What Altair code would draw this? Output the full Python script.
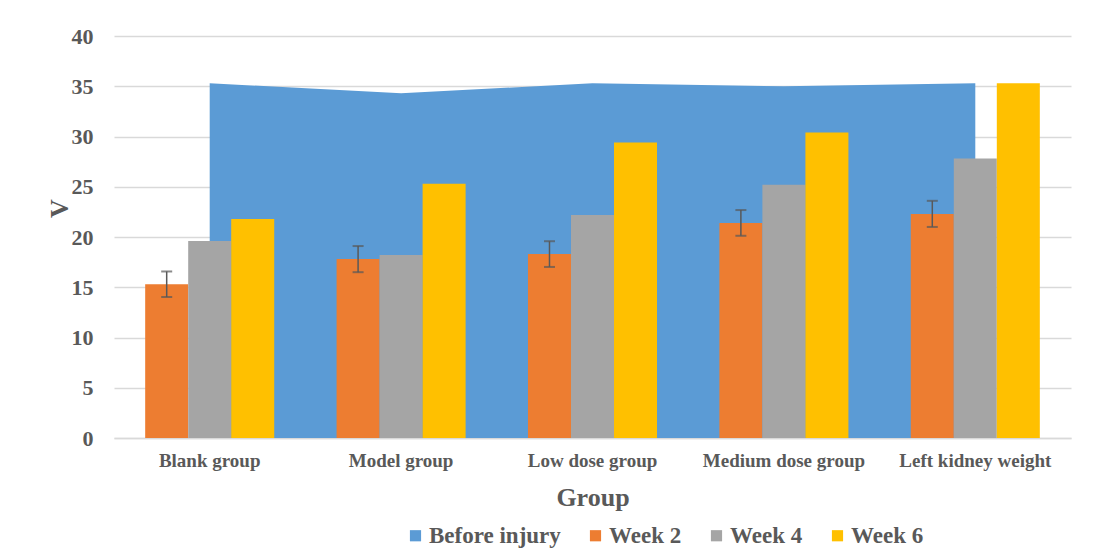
import altair as alt
import pandas as pd

groups = ["Blank group", "Model group", "Low dose group", "Medium dose group", "Left kidney weight"]
series_names = ["Before injury", "Week 2", "Week 4", "Week 6"]
weeks = ["Week 2", "Week 4", "Week 6"]
colors = ["#5B9BD5", "#ED7D31", "#A5A5A5", "#FFC000"]

before_injury = [35.3, 34.3, 35.3, 35.0, 35.3]
week2 = [15.3, 17.8, 18.3, 21.4, 22.3]
week4 = [19.6, 18.2, 22.2, 25.2, 27.8]
week6 = [21.8, 25.3, 29.4, 30.4, 35.3]
week2_err = [1.27, 1.3, 1.28, 1.28, 1.3]
y_ticks = [0, 5, 10, 15, 20, 25, 30, 35, 40]

FONT = "Liberation Serif"
TXT = "#595959"
GRID = "#D9D9D9"

df_area = pd.DataFrame({"group": groups, "value": before_injury, "series": "Before injury"})
bars = []
for name, vals in zip(weeks, [week2, week4, week6]):
    for g, v in zip(groups, vals):
        bars.append({"group": g, "series": name, "value": v})
df_bars = pd.DataFrame(bars)
df_err = pd.DataFrame({
    "group": groups,
    "series": "Week 2",
    "lo": [v - e for v, e in zip(week2, week2_err)],
    "hi": [v + e for v, e in zip(week2, week2_err)],
})

color_scale = alt.Scale(domain=series_names, range=colors)
legend = alt.Legend(
    orient="none", legendX=290, legendY=488, direction="horizontal", title=None,
    symbolType="square", symbolSize=125, symbolStrokeWidth=0,
    labelFontSize=23, labelFont=FONT, labelFontWeight="bold", labelColor=TXT,
    columnPadding=23, labelOffset=2, padding=0,
)

x_enc = alt.X(
    "group:N", sort=groups,
    scale=alt.Scale(domain=groups, paddingInner=0, paddingOuter=0),
    axis=alt.Axis(
        title="Group", labelAngle=0, labelFontSize=19, labelFont=FONT, labelFontWeight="bold",
        labelColor=TXT, labelPadding=13, ticks=False, tickSize=0,
        domainColor=GRID, domainWidth=1.5, grid=False,
        titleFontSize=26, titleFont=FONT, titleFontWeight="bold", titleColor=TXT,
        titleBaseline="alphabetic", titleY=67,
    ),
)
y_enc = alt.Y(
    "value:Q",
    scale=alt.Scale(domain=[0, 40], nice=False),
    axis=alt.Axis(
        title="V", values=y_ticks, labelFontSize=22, labelFont=FONT, labelFontWeight="bold",
        labelColor=TXT, labelPadding=21, ticks=False, tickSize=0, domain=False,
        gridColor=GRID, gridWidth=1.5,
        titleFontSize=26, titleFont=FONT, titleFontWeight="bold", titleColor=TXT,
        titleBaseline="alphabetic", titleX=-47, titleY=172, titleAngle=-90,
    ),
)
xoff = alt.XOffset("series:N", sort=weeks,
                   scale=alt.Scale(domain=weeks, paddingInner=0, paddingOuter=0.725))

area = alt.Chart(df_area).mark_area(opacity=1, interpolate="linear").encode(
    x=x_enc, y=y_enc,
    color=alt.Color("series:N", scale=color_scale, legend=legend),
)
bar = alt.Chart(df_bars).mark_bar().encode(
    x=x_enc, xOffset=xoff, y=y_enc,
    color=alt.Color("series:N", scale=color_scale, legend=legend),
)
rule = alt.Chart(df_err).mark_rule(color=TXT, strokeWidth=1.5).encode(
    x=x_enc, xOffset=xoff, y=alt.Y("lo:Q"), y2="hi:Q",
)
cap_lo = alt.Chart(df_err).mark_tick(color=TXT, thickness=2, size=11).encode(
    x=x_enc, xOffset=xoff, y=alt.Y("lo:Q"),
)
cap_hi = alt.Chart(df_err).mark_tick(color=TXT, thickness=2, size=11).encode(
    x=x_enc, xOffset=xoff, y=alt.Y("hi:Q"),
)

chart = alt.layer(area, bar, rule, cap_lo, cap_hi).properties(
    width=957, height=402,
    autosize=alt.AutoSizeParams(type="none"),
    padding={"left": 106, "top": 28, "right": 30, "bottom": 115},
).configure(font=FONT, view=alt.ViewConfig(stroke=None))

chart.save("out.html", embed_options={"renderer": "svg", "actions": False})
